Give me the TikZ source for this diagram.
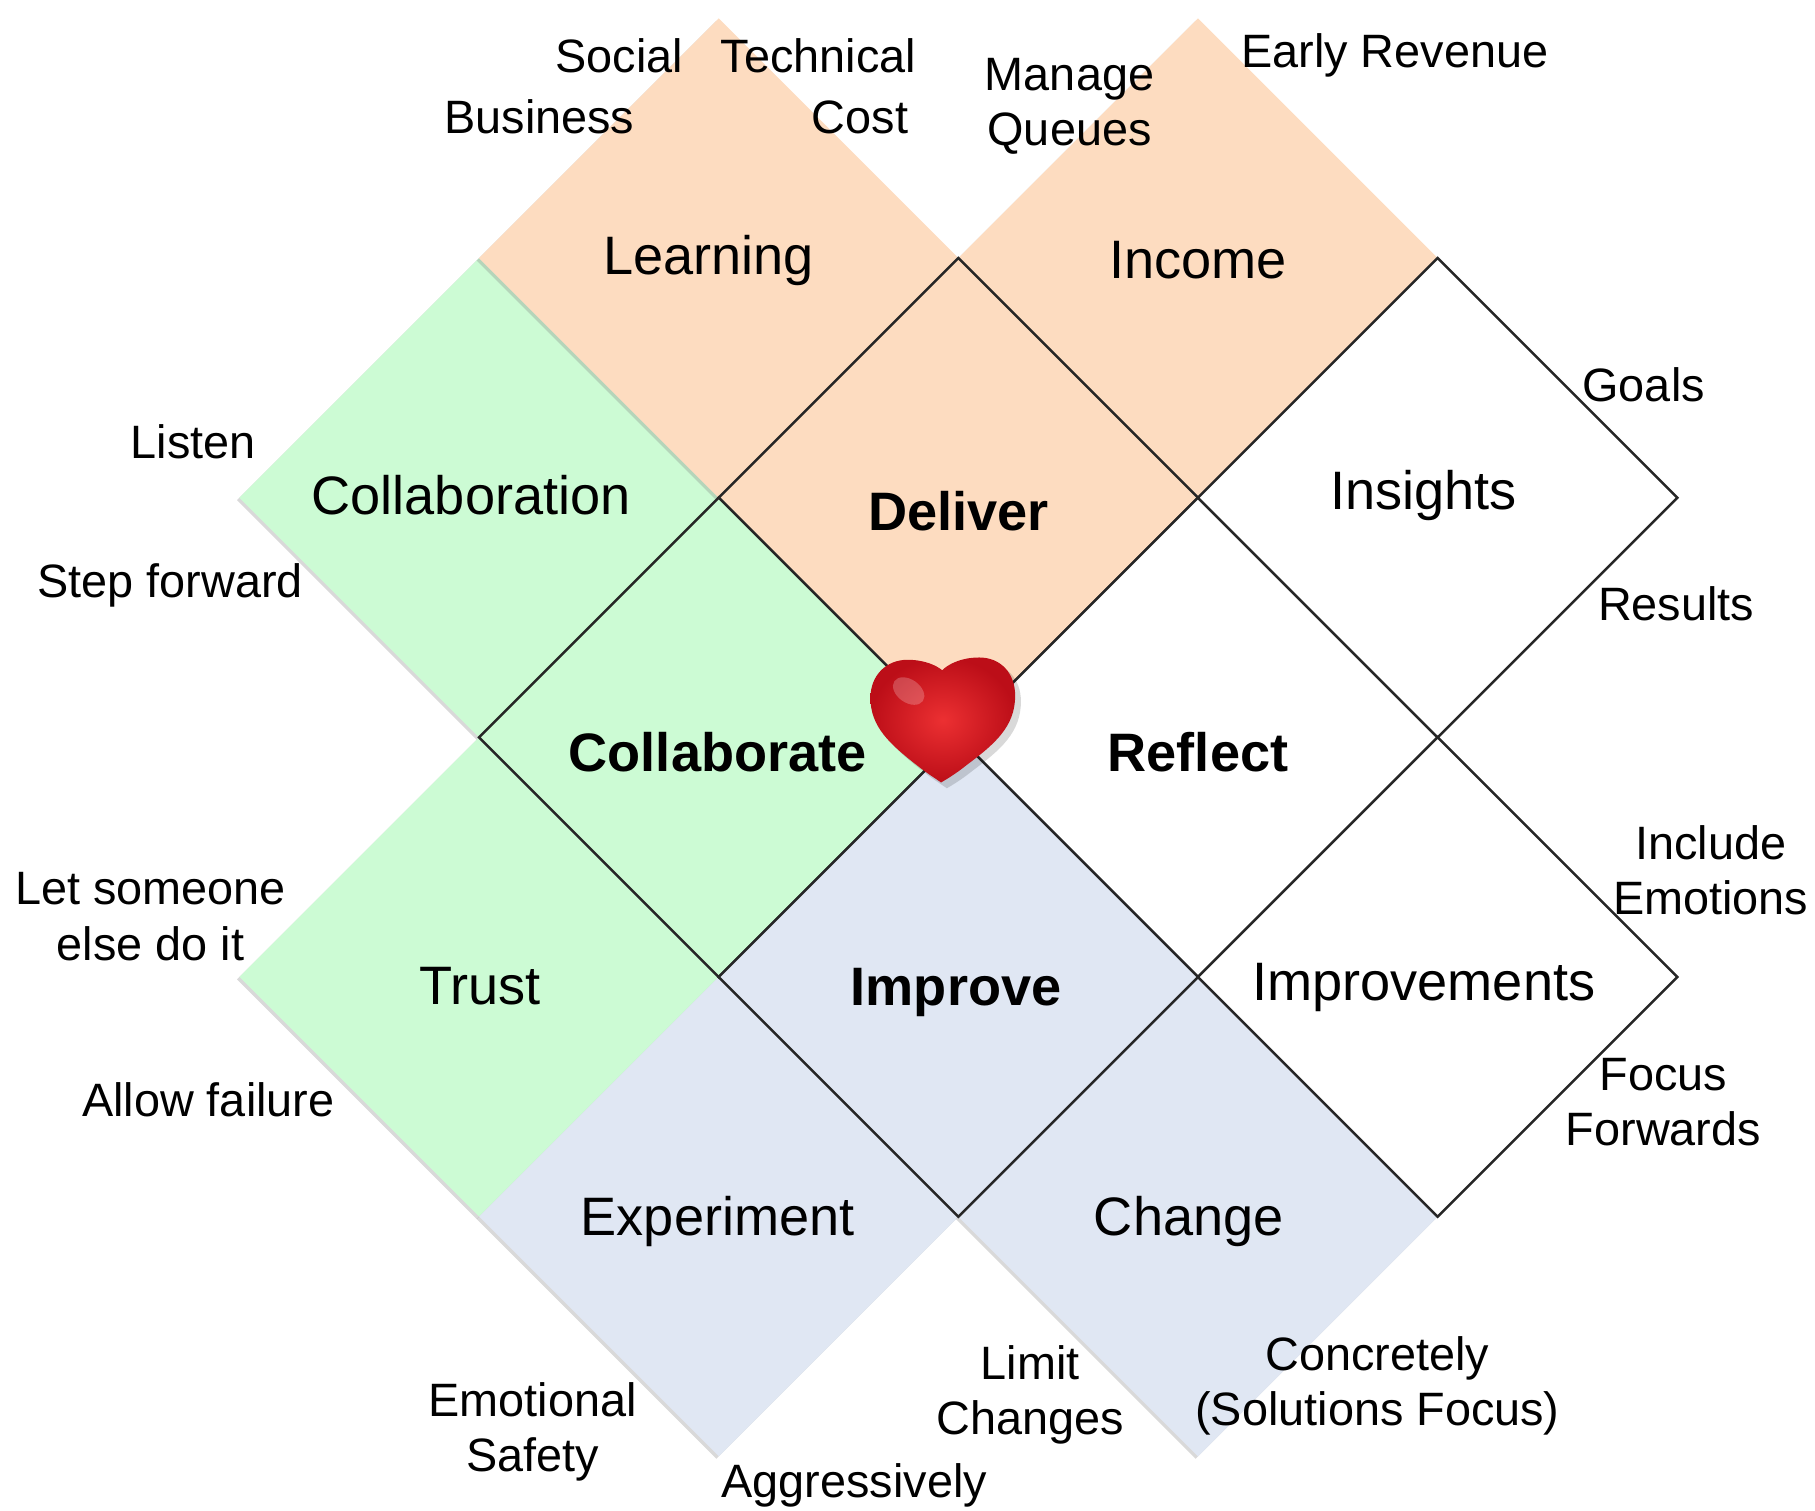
\documentclass[tikz,border=0pt]{standalone}
\usepackage{fontspec}
\setmainfont{Liberation Sans}
\usetikzlibrary{shapes.geometric,shadows}

\definecolor{peach}{RGB}{253,220,192}
\definecolor{mint}{RGB}{204,251,212}
\definecolor{mist}{RGB}{224,231,243}
\definecolor{heartlight}{RGB}{236,48,50}
\definecolor{heartdark}{RGB}{188,14,24}

\tikzset{
  tile/.style={diamond, minimum width=4.14cm, minimum height=4.14cm, inner sep=0pt, outer sep=0pt},
  soft/.style={tile, fill=#1, drop shadow={shadow xshift=-0.6pt, shadow yshift=-0.6pt, opacity=0.3}},
  framed/.style={tile, fill=#1, draw=black!85, line width=0.6pt},
  heading/.style={font=\fontsize{13.3}{16}\selectfont},
  core/.style={font=\fontsize{13.3}{16}\selectfont\bfseries},
  aside/.style={font=\fontsize{11.5}{13.6}\selectfont, align=center},
  heart/.pic={
    \path[pic actions] (-1,53) .. controls (-5,50) and (-12,46) .. (-22,38)
      .. controls (-45,20) and (-62,5) .. (-62,-20) .. controls (-62,-40) and (-48,-53) .. (-30,-53)
      .. controls (-15,-53) and (-5,-48) .. (0,-44) .. controls (5,-49) and (16,-55) .. (32,-55)
      .. controls (50,-55) and (63,-42) .. (63,-22) .. controls (63,5) and (45,20) .. (21,38)
      .. controls (11,46) and (4,50) .. (-1,53) -- cycle;
  },
}

\begin{document}
\begin{tikzpicture}[x=0.01cm, y=-0.01cm]
    \useasboundingbox (0,0) rectangle (1568,1305);
    \def\d{207}
    % outer tiles, no frame
    \foreach \i/\j/\nm/\col/\txt/\tx/\ty in {-2/-1/clbn/mint/Collaboration/407/428, -2/1/trst/mint/Trust/415/852,
        -1/-2/lrn/peach/Learning/612/225, 1/-2/inc/peach/Income/1035/225,
        -1/2/expr/mist/Experiment/620/1055, 1/2/chg/mist/Change/1027/1055} {
      \node[soft=\col] (\nm) at ({828+\d*\i},{637+\d*\j}) {};
      \node[heading] (\nm-t) at (\tx,\ty) {\txt};
    }
    % framed tiles
    \foreach \i/\j/\nm/\col/\txt/\tx/\ty in {0/-1/dlv/peach/Deliver/828/442, -1/0/clbt/mint/Collaborate/620/650,
        1/0/rfl/white/Reflect/1035/650, 0/1/imp/mist/Improve/826/857} {
      \node[framed=\col] (\nm) at ({828+\d*\i},{637+\d*\j}) {};
      \node[core] (\nm-t) at (\tx,\ty) {\txt};
    }
    \foreach \i/\j/\nm/\txt/\tx/\ty in {2/-1/ins/Insights/1230/428, 2/1/imps/Improvements/1230/853} {
      \node[framed=white] (\nm) at ({828+\d*\i},{637+\d*\j}) {};
      \node[heading] (\nm-t) at (\tx,\ty) {\txt};
    }
    % side notes
    \foreach \x/\y/\t [count=\k] in {535/48/Social, 707/48/Technical, 466/101/Business, 743/101/Cost,
        924/92/{Manage\\Queues}, 1205/48/Early Revenue, 1420/332/Goals, 1448/522/Results,
        167/382/Listen, 147/506/Step forward, 130/792/{Let someone\\else do it}, 180/950/Allow failure,
        1478/752/{Include\\Emotions}, 1437/952/{Focus\\Forwards}, 460/1237/{Emotional\\Safety},
        738/1283/Aggressively, 890/1205/{Limit\\Changes}, 1190/1197/{Concretely\\(Solutions Focus)}} {
      \node[aside] (note\k) at (\x,\y) {\t};
    }
    % heart
    \pic[fill=black, opacity=0.15] at (819,628) {heart};
    \pic[inner color=heartlight, outer color=heartdark, shade] at (814,623) {heart};
    \fill[white, opacity=0.22, rotate around={-35:(785,597)}] (785,597) ellipse (15 and 10);
\end{tikzpicture}
\end{document}
